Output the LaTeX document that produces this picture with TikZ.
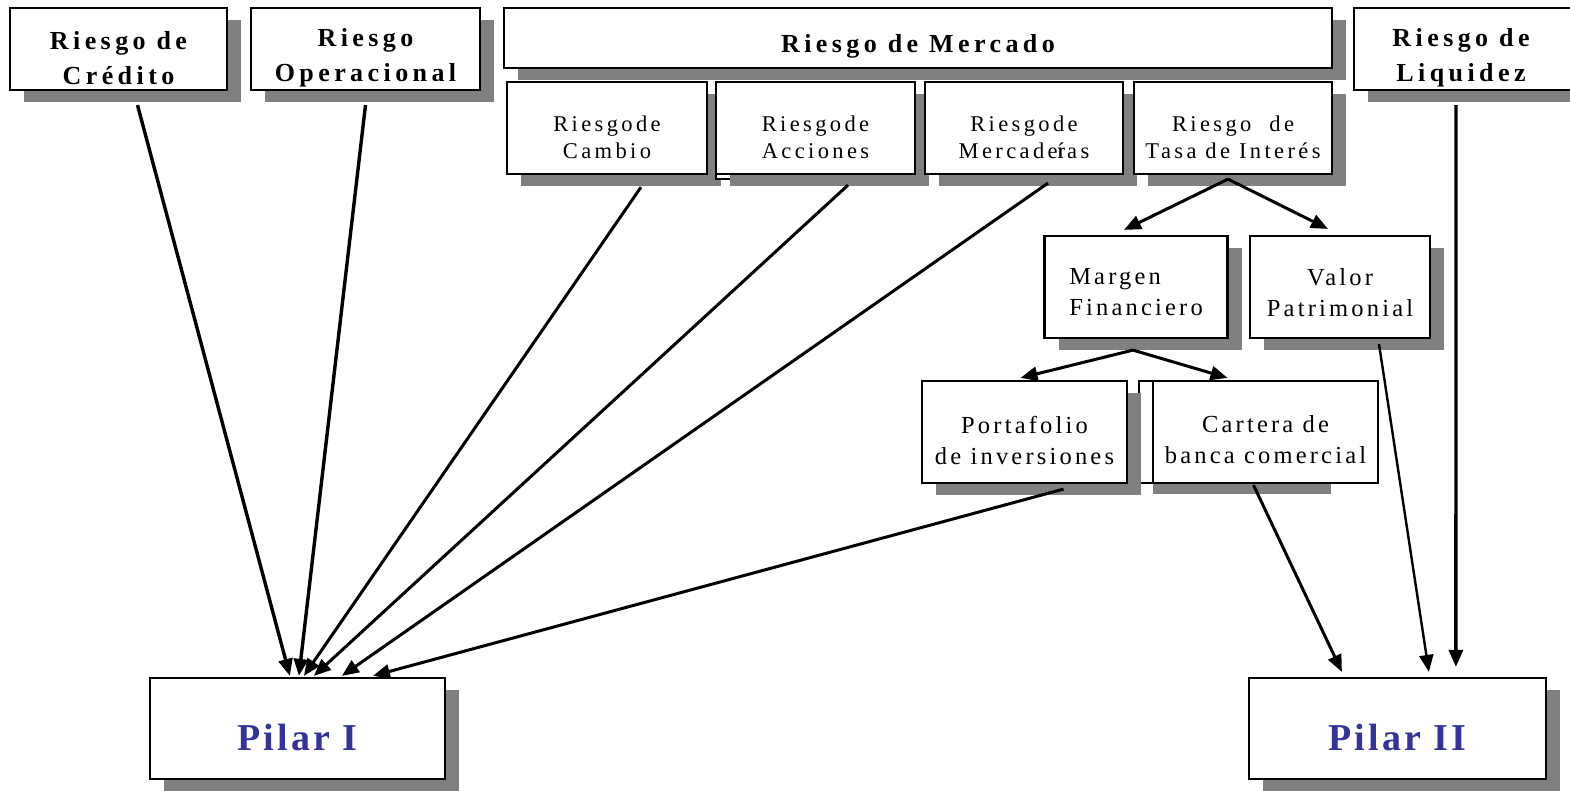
\documentclass[tikz,border=0pt]{standalone}
\usepackage{fontspec}
\setmainfont{Liberation Serif}
\newfontfamily\topfont[LetterSpace=17]{Liberation Serif}
\newfontfamily\subfont[LetterSpace=15]{Liberation Serif}
\newfontfamily\lowfont[LetterSpace=13]{Liberation Serif}
\newfontfamily\pilfont[LetterSpace=8]{Liberation Serif}
\usetikzlibrary{arrows.meta,shadows,calc}
\definecolor{pilarblue}{RGB}{51,51,153}
\definecolor{shadowgray}{RGB}{128,128,128}
\newcommand\topb{\topfont\bfseries\fontsize{26}{35}\selectfont}
\newcommand\subt{\subfont\fontsize{22.5}{27}\selectfont}
\newcommand\lowt{\lowfont\fontsize{24.5}{31}\selectfont}
\newcommand\pilt{\pilfont\bfseries\fontsize{38}{42}\selectfont}
\begin{document}
\begin{tikzpicture}[x=1pt,y=-1pt,
  box/.style={draw, line width=2.2pt, fill=white, inner sep=0pt},
  shad/.style={drop shadow={shadow xshift=14pt, shadow yshift=-12pt, fill=shadowgray, opacity=1}},
  lbl/.style={align=center, inner sep=0pt},
  arr/.style={line width=3pt, -{Triangle[length=17pt,width=14pt]}},
  back/.style={draw, line width=2.2pt, fill=white}]
\useasboundingbox (0,0) rectangle (1570,790);
\clip (0,0) rectangle (1570,790);
\fill[white] (0,0) rectangle (1570,790);

% top row
\node[box, shad, minimum width=217pt, minimum height=82pt,
  label={[lbl, yshift=-9pt, font=\topb]center:Riesgo de\\Crédito}] (cred) at (118.5,49) {};
\node[box, shad, minimum width=229pt, minimum height=82pt,
  label={[lbl, yshift=-9pt, font=\topb]center:Riesgo\\Operacional}] (oper) at (365.5,49) {};
\node[box, shad, minimum width=828pt, minimum height=60pt,
  label={[lbl, yshift=-8pt, font=\topb]center:Riesgo de Mercado}] (merc) at (918,38) {};
\node[box, shad, minimum width=226pt, minimum height=82pt,
  label={[lbl, xshift=-6pt, yshift=-9pt, font=\topb]center:Riesgo de\\Liquidez}] (liq) at (1467,49) {};

% market sub-boxes
\node[box, shad, minimum width=200pt, minimum height=92pt,
  label={[lbl, yshift=-9pt, font=\subt]center:Riesgode\\Cambio}] (cam) at (607,128) {};
\draw[back] (716,82) rectangle (800,179);
\node[box, shad, minimum width=199pt, minimum height=92pt,
  label={[lbl, yshift=-9pt, font=\subt]center:Riesgode\\Acciones}] (acc) at (815.5,128) {};
\node[box, shad, minimum width=198pt, minimum height=92pt,
  label={[lbl, yshift=-9pt, font=\subt]center:Riesgode\\Mercade\rlap{r}ías}] (mcd) at (1024,128) {};
\node[box, shad, minimum width=198pt, minimum height=92pt,
  label={[lbl, yshift=-9pt, font=\subt]center:Riesgo\ \ de\\Tasa de Interés}] (tasa) at (1233,128) {};

% interest rate branch
\node[box, shad, minimum width=183pt, minimum height=102pt,
  label={[align=left, inner sep=0pt, yshift=-5pt, font=\lowt]center:Margen\\Financiero}] (marg) at (1136,287) {};
\node[box, shad, minimum width=180pt, minimum height=102pt,
  label={[lbl, yshift=-6pt, font=\lowt]center:Valor\\Patrimonial}] (valor) at (1340,287) {};

\draw[back] (1139,381) rectangle (1200,483);
\node[box, shad, minimum width=205pt, minimum height=102pt,
  label={[lbl, yshift=-8pt, font=\lowt]center:Portafolio\\de inversiones}] (port) at (1024.5,432) {};
\fill[shadowgray] (1153,483) rectangle (1331,494);
\node[box, minimum width=225pt, minimum height=102pt,
  label={[lbl, yshift=-8pt, font=\lowt]center:Cartera de\\banca comercial}] (cart) at (1265.5,432) {};

% pillars
\node[box, shad, minimum width=295pt, minimum height=101pt,
  label={[lbl, yshift=-9pt, font=\pilt, text=pilarblue]center:Pilar I}] (p1) at (297.5,728.5) {};
\node[box, shad, minimum width=297pt, minimum height=101pt,
  label={[lbl, yshift=-9pt, font=\pilt, text=pilarblue]center:Pilar II}] (p2) at (1397.5,728.5) {};

% connectors to Pilar I
\draw[arr, line width=3.4pt] ($(cred.south)+(19,14)$) -- ($(p1.north west)+(141,-1)$);
\draw[arr, line width=3.4pt] ($(oper.south)+(0,14)$) -- ($(p1.north west)+(150,-1)$);
\draw[arr] ($(cam.south)+(34,12)$) -- ($(p1.north west)+(155,-1)$);
\draw[arr] ($(acc.south)+(32.5,10)$) -- ($(p1.north west)+(165,-1)$);
\draw[arr] ($(mcd.south)+(24,8)$) -- ($(p1.north west)+(193,-1)$);
\draw[arr] ($(port.south)+(39,5)$) -- ($(p1.north west)+(224,-1)$);

% interest rate arrows
\draw[arr] ($(tasa.south)+(-5,4)$) -- ($(marg.north)+(-12,-5)$);
\draw[arr] ($(tasa.south)+(-5,4)$) -- ($(valor.north)+(-12,-6)$);
\draw[arr] ($(marg.south)+(-3,11)$) -- ($(port.north)+(-4,-2)$);
\draw[arr] ($(marg.south)+(-3,11)$) -- ($(cart.north)+(-38,-2)$);

% connectors to Pilar II
\draw[arr] ($(cart.south)+(-12,1)$) -- ($(p2.north west)+(94,-5)$);
\draw[arr, line width=2.4pt] ($(valor.south)+(39,5)$) -- ($(p2.north west)+(181,-5)$);
\draw[arr, line width=3.4pt] ($(liq.south)+(-11,14)$) -- ($(p2.north west)+(208,-10)$);
\end{tikzpicture}
\end{document}
